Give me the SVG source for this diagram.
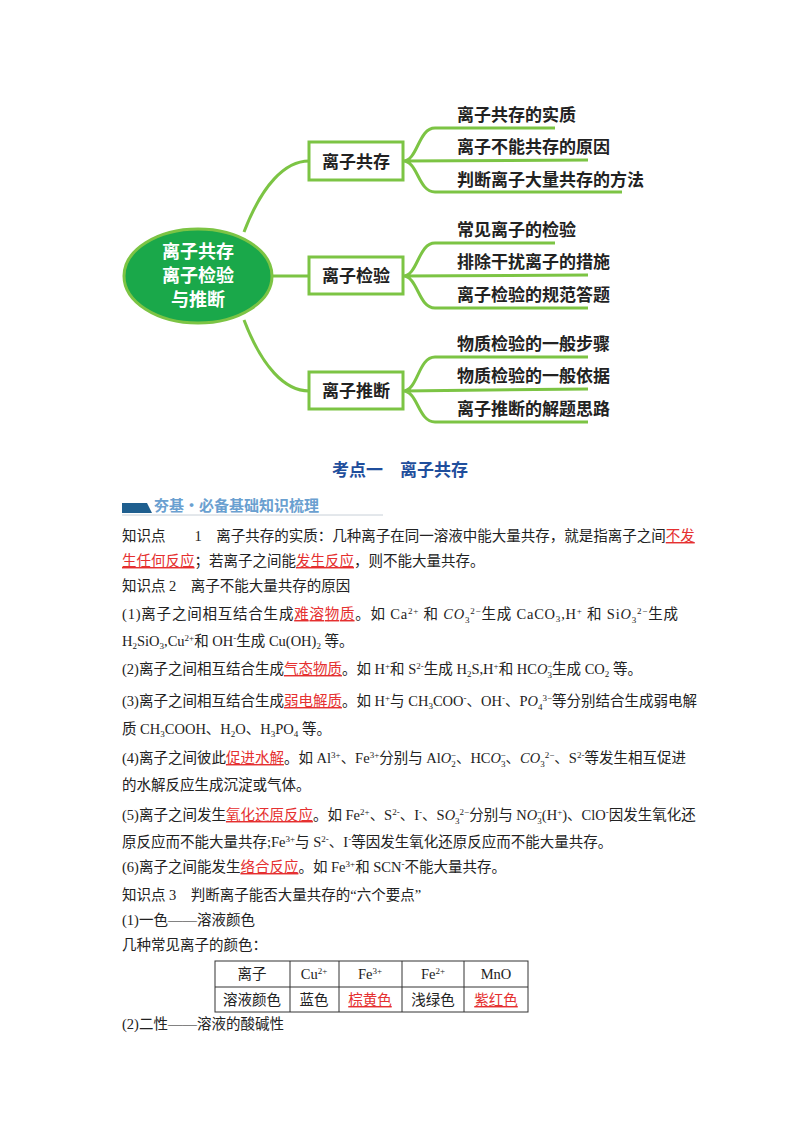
<svg xmlns="http://www.w3.org/2000/svg" width="800" height="1132" viewBox="0 0 800 1132">
<style>
.lf{font-family:"Noto Sans CJK SC","Noto Sans",sans-serif;font-weight:bold;font-size:17px;fill:#222}
.ct{font-family:"Noto Sans CJK SC","Noto Sans",sans-serif;font-weight:bold;font-size:18px;fill:#fff}
.bx{fill:#fff;stroke:#7cc444;stroke-width:3}
.cn{fill:none;stroke:#7cc444;stroke-width:3}
.t{font-family:"Liberation Serif","Noto Sans CJK SC",serif;font-size:14.5px;fill:#222}
.r{fill:#e53030;text-decoration:underline}
.s{font-size:9px}
.i{font-style:italic}
.tb{fill:none;stroke:#333;stroke-width:1}
</style>
<rect width="800" height="1132" fill="#fff"/>
<g id="connectors">
<path class="cn" d="M244,232 C262,185 285,161 309,161"/>
<path class="cn" d="M272,276 L309,276"/>
<path class="cn" d="M244,320 C262,367 285,391 309,391"/>
<path class="cn" d="M403,161 C418,161 418,128 435,128 L555,128 M403,161 L588,160 M403,161 C418,161 418,192 435,192 L622,192"/>
<path class="cn" d="M403,276 C418,276 418,243 435,243 L555,243 M403,276 L588,275 M403,276 C418,276 418,308 435,308 L588,308"/>
<path class="cn" d="M403,391 C418,391 418,357 435,357 L588,357 M403,391 L588,389 M403,391 C418,391 418,422 435,422 L588,422"/>
</g>
<g id="center">
<ellipse cx="198" cy="276" rx="74" ry="47" fill="#1aa84a" stroke="#7cc444" stroke-width="3"/>
<text class="ct" x="198" y="258" text-anchor="middle">离子共存</text>
<text class="ct" x="198" y="282" text-anchor="middle">离子检验</text>
<text class="ct" x="198" y="306" text-anchor="middle">与推断</text>
</g>
<g id="b1"><rect class="bx" x="309" y="142" width="94" height="38"/><text class="lf" x="356" y="168" text-anchor="middle">离子共存</text></g>
<g id="b2"><rect class="bx" x="309" y="257" width="94" height="37"/><text class="lf" x="356" y="282" text-anchor="middle">离子检验</text></g>
<g id="b3"><rect class="bx" x="309" y="372" width="94" height="37"/><text class="lf" x="356" y="397" text-anchor="middle">离子推断</text></g>
<g id="leaves">
<text class="lf" x="457" y="121">离子共存的实质</text>
<text class="lf" x="457" y="153">离子不能共存的原因</text>
<text class="lf" x="457" y="186">判断离子大量共存的方法</text>
<text class="lf" x="457" y="236">常见离子的检验</text>
<text class="lf" x="457" y="268">排除干扰离子的措施</text>
<text class="lf" x="457" y="301">离子检验的规范答题</text>
<text class="lf" x="457" y="350">物质检验的一般步骤</text>
<text class="lf" x="457" y="382">物质检验的一般依据</text>
<text class="lf" x="457" y="415">离子推断的解题思路</text>
</g>
<text x="400" y="476" text-anchor="middle" font-family="Noto Sans CJK SC,sans-serif" font-weight="bold" font-size="17" fill="#1f4e9c" xml:space="preserve">考点一　离子共存</text>
<g id="header">
<polygon points="122,503 147,503 152,513 122,513" fill="#1f5f8f"/>
<line x1="122" y1="515" x2="383" y2="515" stroke="#c8d0d8" stroke-width="1"/>
<text x="154" y="511" font-family="Noto Sans CJK SC,sans-serif" font-weight="bold" font-size="15" fill="#6aa0d0">夯基·必备基础知识梳理</text>
</g>
<g id="body" class="t">
<text class="t" x="122" y="541" xml:space="preserve">知识点　　1　离子共存的实质：几种离子在同一溶液中能大量共存，就是指离子之间<tspan class="r">不发</tspan></text>
<text class="t" x="122" y="566"><tspan class="r">生任何反应</tspan>；若离子之间能<tspan class="r">发生反应</tspan>，则不能大量共存。</text>
<text class="t" x="122" y="591" xml:space="preserve">知识点 2　离子不能大量共存的原因</text>
<text class="t" x="122" y="619" textLength="556" lengthAdjust="spacing">(1)离子之间相互结合生成<tspan class="r">难溶物质</tspan>。如 Ca<tspan class="s" dy="-5">2+</tspan><tspan dy="5"> 和 </tspan><tspan class="i">CO</tspan><tspan class="s" dy="4">3</tspan><tspan class="s" dy="-9">2−</tspan><tspan dy="5">生成 CaCO</tspan><tspan class="s" dy="3">3</tspan><tspan dy="-3">,H</tspan><tspan class="s" dy="-5">+</tspan><tspan dy="5"> 和 Si</tspan><tspan class="i">O</tspan><tspan class="s" dy="4">3</tspan><tspan class="s" dy="-9">2−</tspan><tspan dy="5">生成</tspan></text>
<text class="t" x="122" y="646">H<tspan class="s" dy="3">2</tspan><tspan dy="-3">SiO</tspan><tspan class="s" dy="3">3</tspan><tspan dy="-3">,Cu</tspan><tspan class="s" dy="-5">2+</tspan><tspan dy="5">和 OH</tspan><tspan class="s" dy="-5">-</tspan><tspan dy="5">生成 Cu(OH)</tspan><tspan class="s" dy="3">2</tspan><tspan dy="-3"> 等。</tspan></text>
<text class="t" x="122" y="674">(2)离子之间相互结合生成<tspan class="r">气态物质</tspan>。如 H<tspan class="s" dy="-5">+</tspan><tspan dy="5">和 S</tspan><tspan class="s" dy="-5">2-</tspan><tspan dy="5">生成 H</tspan><tspan class="s" dy="3">2</tspan><tspan dy="-3">S,H</tspan><tspan class="s" dy="-5">+</tspan><tspan dy="5">和 HC</tspan><tspan class="i">O</tspan><tspan class="s" dy="4">3</tspan><tspan class="s" dx="-5" dy="-9">−</tspan><tspan dy="5">生成 CO</tspan><tspan class="s" dy="3">2</tspan><tspan dy="-3"> 等。</tspan></text>
<text class="t" x="122" y="706">(3)离子之间相互结合生成<tspan class="r">弱电解质</tspan>。如 H<tspan class="s" dy="-5">+</tspan><tspan dy="5">与 CH</tspan><tspan class="s" dy="3">3</tspan><tspan dy="-3">COO</tspan><tspan class="s" dy="-5">-</tspan><tspan dy="5">、OH</tspan><tspan class="s" dy="-5">-</tspan><tspan dy="5">、P</tspan><tspan class="i">O</tspan><tspan class="s" dy="4">4</tspan><tspan class="s" dy="-9">3−</tspan><tspan dy="5">等分别结合生成弱电解</tspan></text>
<text class="t" x="122" y="734">质 CH<tspan class="s" dy="3">3</tspan><tspan dy="-3">COOH、H</tspan><tspan class="s" dy="3">2</tspan><tspan dy="-3">O、H</tspan><tspan class="s" dy="3">3</tspan><tspan dy="-3">PO</tspan><tspan class="s" dy="3">4</tspan><tspan dy="-3"> 等。</tspan></text>
<text class="t" x="122" y="763">(4)离子之间彼此<tspan class="r">促进水解</tspan>。如 Al<tspan class="s" dy="-5">3+</tspan><tspan dy="5">、Fe</tspan><tspan class="s" dy="-5">3+</tspan><tspan dy="5">分别与 Al</tspan><tspan class="i">O</tspan><tspan class="s" dy="4">2</tspan><tspan class="s" dx="-5" dy="-9">−</tspan><tspan dy="5">、HC</tspan><tspan class="i">O</tspan><tspan class="s" dy="4">3</tspan><tspan class="s" dx="-5" dy="-9">−</tspan><tspan dy="5">、</tspan><tspan class="i">CO</tspan><tspan class="s" dy="4">3</tspan><tspan class="s" dy="-9">2−</tspan><tspan dy="5">、S</tspan><tspan class="s" dy="-5">2-</tspan><tspan dy="5">等发生相互促进</tspan></text>
<text class="t" x="122" y="790">的水解反应生成沉淀或气体。</text>
<text class="t" x="122" y="820">(5)离子之间发生<tspan class="r">氧化还原反应</tspan>。如 Fe<tspan class="s" dy="-5">2+</tspan><tspan dy="5">、S</tspan><tspan class="s" dy="-5">2-</tspan><tspan dy="5">、I</tspan><tspan class="s" dy="-5">-</tspan><tspan dy="5">、S</tspan><tspan class="i">O</tspan><tspan class="s" dy="4">3</tspan><tspan class="s" dy="-9">2−</tspan><tspan dy="5">分别与 N</tspan><tspan class="i">O</tspan><tspan class="s" dy="4">3</tspan><tspan class="s" dx="-5" dy="-9">−</tspan><tspan dy="5">(H</tspan><tspan class="s" dy="-5">+</tspan><tspan dy="5">)、ClO</tspan><tspan class="s" dy="-5">-</tspan><tspan dy="5">因发生氧化还</tspan></text>
<text class="t" x="122" y="847">原反应而不能大量共存;Fe<tspan class="s" dy="-5">3+</tspan><tspan dy="5">与 S</tspan><tspan class="s" dy="-5">2-</tspan><tspan dy="5">、I</tspan><tspan class="s" dy="-5">-</tspan><tspan dy="5">等因发生氧化还原反应而不能大量共存。</tspan></text>
<text class="t" x="122" y="872">(6)离子之间能发生<tspan class="r">络合反应</tspan>。如 Fe<tspan class="s" dy="-5">3+</tspan><tspan dy="5">和 SCN</tspan><tspan class="s" dy="-5">-</tspan><tspan dy="5">不能大量共存。</tspan></text>
<text class="t" x="122" y="900" xml:space="preserve">知识点 3　判断离子能否大量共存的“六个要点”</text>
<text class="t" x="122" y="925">(1)一色——溶液颜色</text>
<text class="t" x="122" y="950">几种常见离子的颜色：</text>
<text class="t" x="122" y="1029">(2)二性——溶液的酸碱性</text>
</g>
<g id="table">
<rect class="tb" x="215" y="961" width="313" height="51"/>
<line class="tb" x1="215" y1="987" x2="528" y2="987"/>
<line class="tb" x1="290" y1="961" x2="290" y2="1012"/>
<line class="tb" x1="339" y1="961" x2="339" y2="1012"/>
<line class="tb" x1="402" y1="961" x2="402" y2="1012"/>
<line class="tb" x1="464" y1="961" x2="464" y2="1012"/>
<text class="t" x="252" y="979" text-anchor="middle">离子</text>
<text class="t" x="314" y="979" text-anchor="middle">Cu<tspan class="s" dy="-5">2+</tspan></text>
<text class="t" x="370" y="979" text-anchor="middle">Fe<tspan class="s" dy="-5">3+</tspan></text>
<text class="t" x="433" y="979" text-anchor="middle">Fe<tspan class="s" dy="-5">2+</tspan></text>
<text class="t" x="496" y="979" text-anchor="middle">MnO</text>
<text class="t" x="252" y="1005" text-anchor="middle">溶液颜色</text>
<text class="t" x="314" y="1005" text-anchor="middle">蓝色</text>
<text class="t r" x="370" y="1005" text-anchor="middle">棕黄色</text>
<text class="t" x="433" y="1005" text-anchor="middle">浅绿色</text>
<text class="t r" x="496" y="1005" text-anchor="middle">紫红色</text>
</g>
</svg>
